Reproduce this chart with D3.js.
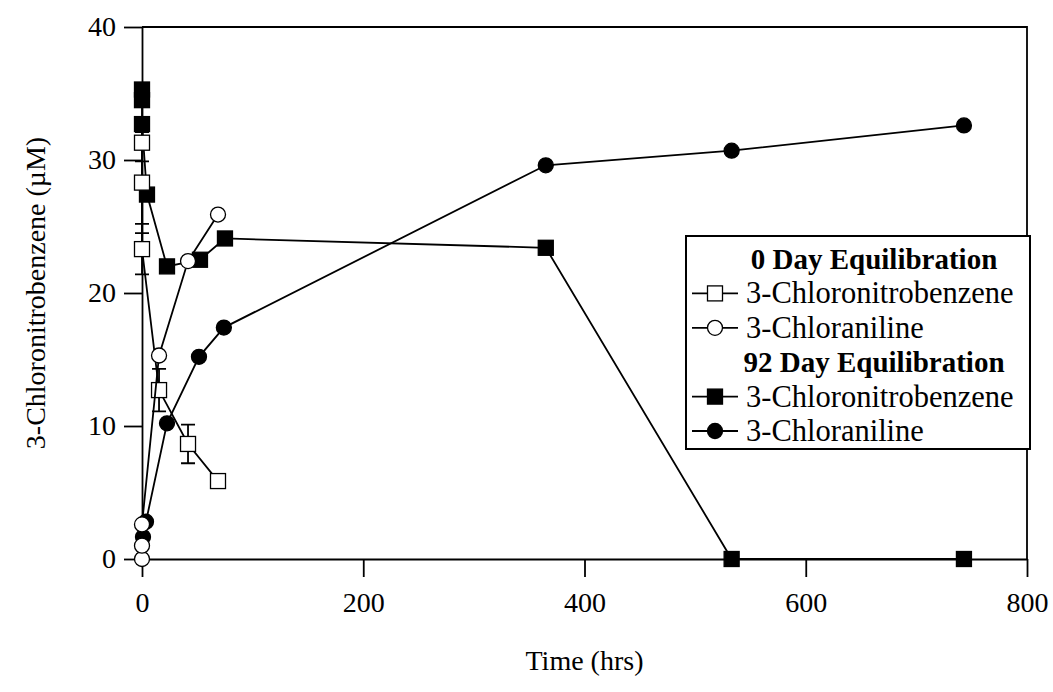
<!DOCTYPE html>
<html>
<head>
<meta charset="utf-8">
<script src="https://cdnjs.cloudflare.com/ajax/libs/d3/7.8.5/d3.min.js"></script>
<style>
body { margin: 0; background: #fff; }
svg { font-family: "Liberation Serif", "Times New Roman", serif; }
</style>
</head>
<body>
<div id="chart"></div>
<script>
// 0 day equilibration
var cnb0Time = [0, 0, 0, 15.4, 41.6, 68.7];
var cnb0Conc = [31.3, 28.3, 23.3, 12.7, 8.65, 5.86];
var cnb0Err = [1.4, 3.8, 1.9, 1.6, 1.45, 0];
var ca0Time = [0, 0, 0, 15.4, 41.6, 68.7];
var ca0Conc = [0, 1.0, 2.6, 15.3, 22.4, 25.9];

// 92 day equilibration
var cnb92Time = [0, 0, 0, 4.5, 22.6, 52.4, 75, 365, 533, 743];
var cnb92Conc = [35.3, 34.5, 32.7, 27.4, 22.0, 22.5, 24.1, 23.4, 0, 0];
var ca92Time = [0.9, 3.6, 22.6, 51.5, 74, 365, 533, 743];
var ca92Conc = [1.65, 2.8, 10.2, 15.2, 17.4, 29.6, 30.7, 32.6];

var xTicks = [0, 200, 400, 600, 800];
var yTicks = [0, 10, 20, 30, 40];

var legendItems = [
    {label: "0 Day Equilibration", header: true},
    {label: "3-Chloronitrobenzene", shape: "square", filled: false},
    {label: "3-Chloraniline", shape: "circle", filled: false},
    {label: "92 Day Equilibration", header: true},
    {label: "3-Chloronitrobenzene", shape: "square", filled: true},
    {label: "3-Chloraniline", shape: "circle", filled: true}
];

const W = 1053, H = 692;
const margin = {top: 27, right: 26, bottom: 133, left: 142};
const width = W - margin.left - margin.right;
const height = H - margin.top - margin.bottom;
const markSize = 15;

function zip(xs, ys, es) {
    return xs.map((t, i) => ({t: t, v: ys[i], e: es ? es[i] : 0}));
}

var series = [
    {data: zip(cnb92Time, cnb92Conc), shape: "square", filled: true},
    {data: zip(ca92Time, ca92Conc), shape: "circle", filled: true},
    {data: zip(cnb0Time, cnb0Conc, cnb0Err), shape: "square", filled: false},
    {data: zip(ca0Time, ca0Conc), shape: "circle", filled: false}
];

var svg = d3.select("#chart").append("svg")
    .attr("width", W)
    .attr("height", H);

var g = svg.append("g")
    .attr("transform", "translate(" + margin.left + "," + margin.top + ")");

var x = d3.scaleLinear().domain([0, 800]).range([0, width]);
var y = d3.scaleLinear().domain([0, 40]).range([height, 0]);

// frame (top and right)
g.append("path")
    .attr("d", "M0,0H" + width + "V" + height)
    .attr("fill", "none")
    .attr("stroke", "#000")
    .attr("stroke-width", 1.8);

var xAxis = g.append("g")
    .attr("transform", "translate(0," + height + ")")
    .call(d3.axisBottom(x).tickValues(xTicks).tickSize(18).tickSizeOuter(0).tickPadding(15));

var yAxis = g.append("g")
    .call(d3.axisLeft(y).tickValues(yTicks).tickSize(18).tickSizeOuter(0).tickPadding(8));

[xAxis, yAxis].forEach(function(ax) {
    ax.select(".domain").attr("stroke-width", 1.8);
    ax.selectAll(".tick line").attr("stroke-width", 1.8);
    ax.selectAll("text")
        .attr("font-family", "Liberation Serif, Times New Roman, serif")
        .attr("font-size", 28)
        .attr("fill", "#000");
});

svg.append("text")
    .attr("x", margin.left + width / 2)
    .attr("y", 670)
    .attr("text-anchor", "middle")
    .attr("font-size", 28)
    .text("Time (hrs)");

svg.append("text")
    .attr("transform", "translate(45," + (margin.top + height / 2) + ") rotate(-90)")
    .attr("text-anchor", "middle")
    .attr("font-size", 28)
    .text("3-Chloronitrobenzene (\u00b5M)");

var line = d3.line()
    .x(d => x(d.t))
    .y(d => y(d.v));

function drawMarker(sel, shape, filled) {
    if (shape === "square") {
        sel.append("rect")
            .attr("x", -markSize / 2)
            .attr("y", -markSize / 2)
            .attr("width", markSize)
            .attr("height", markSize);
    } else {
        sel.append("circle").attr("r", markSize / 2);
    }
    sel.selectAll("rect, circle")
        .attr("fill", filled ? "#000" : "#fff")
        .attr("stroke", "#000")
        .attr("stroke-width", 1.3);
}

series.forEach(function(s) {
    g.append("path")
        .datum(s.data)
        .attr("d", line)
        .attr("fill", "none")
        .attr("stroke", "#000")
        .attr("stroke-width", 1.8);

    var errs = s.data.filter(d => d.e > 0);
    g.selectAll(null)
        .data(errs)
        .enter().append("path")
        .attr("d", function(d) {
            var cx = x(d.t), y0 = y(d.v - d.e), y1 = y(d.v + d.e);
            return "M" + (cx - 7) + "," + y0 + "H" + (cx + 7) +
                "M" + cx + "," + y0 + "V" + y1 +
                "M" + (cx - 7) + "," + y1 + "H" + (cx + 7);
        })
        .attr("fill", "none")
        .attr("stroke", "#000")
        .attr("stroke-width", 1.8);

    g.selectAll(null)
        .data(s.data)
        .enter().append("g")
        .attr("transform", d => "translate(" + x(d.t) + "," + y(d.v) + ")")
        .each(function() { drawMarker(d3.select(this), s.shape, s.filled); });
});

// legend
var legend = svg.append("g");
legend.append("rect")
    .attr("x", 686)
    .attr("y", 236)
    .attr("width", 344)
    .attr("height", 213)
    .attr("fill", "#fff")
    .attr("stroke", "#000")
    .attr("stroke-width", 2);

var rowY = d3.scaleLinear().domain([0, 5]).range([269, 441]);

legendItems.forEach(function(item, i) {
    var baseline = rowY(i);
    if (item.header) {
        legend.append("text")
            .attr("x", 874)
            .attr("y", baseline)
            .attr("text-anchor", "middle")
            .attr("font-size", 29)
            .attr("font-weight", "bold")
            .text(item.label);
    } else {
        var cy = baseline - 10;
        legend.append("line")
            .attr("x1", 692).attr("x2", 738)
            .attr("y1", cy).attr("y2", cy)
            .attr("stroke", "#000")
            .attr("stroke-width", 1.8);
        var m = legend.append("g").attr("transform", "translate(715," + cy + ")");
        drawMarker(m, item.shape, item.filled);
        legend.append("text")
            .attr("x", 746)
            .attr("y", baseline)
            .attr("font-size", 30.5)
            .text(item.label);
    }
});
</script>
</body>
</html>
